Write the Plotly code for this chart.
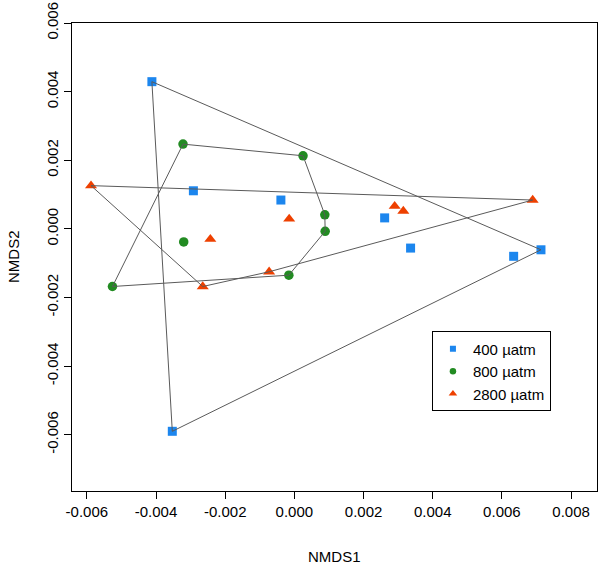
import plotly.graph_objects as go

# ---- data (NMDS scores, units of 1e-3) ----
groups = ["400 µatm", "800 µatm", "2800 µatm"]

x400 = [-4.12, -2.92, -0.39, 2.61, 3.36, 6.34, 7.13, -3.53]
y400 = [4.29, 1.11, 0.84, 0.32, -0.56, -0.80, -0.61, -5.90]

x800 = [-3.22, 0.25, 0.88, 0.89, -0.16, -5.26, -3.20]
y800 = [2.47, 2.13, 0.41, -0.07, -1.35, -1.68, -0.38]

x2800 = [-5.88, -0.15, -2.43, -0.73, -2.65, 2.90, 3.15, 6.89]
y2800 = [1.26, 0.29, -0.30, -1.25, -1.68, 0.66, 0.52, 0.84]

x_ticks = [-0.006, -0.004, -0.002, 0.000, 0.002, 0.004, 0.006, 0.008]
x_ticklabels = ["-0.006", "-0.004", "-0.002", "0.000", "0.002", "0.004", "0.006", "0.008"]
y_ticks = [-0.006, -0.004, -0.002, 0.000, 0.002, 0.004, 0.006]
y_ticklabels = ["-0.006", "-0.004", "-0.002", "0.000", "0.002", "0.004", "0.006"]

colors = ["#1C86EE", "#228B22", "#EE4000"]
symbols = ["square", "circle", "triangle-up"]
sizes = [9, 9.5, 10.5]
legend_sizes = [6, 6.5, 7.5]

SCALE = 1e-3
series = [(x400, y400), (x800, y800), (x2800, y2800)]


def convex_hull(xs, ys):
    pts = sorted(set(zip(xs, ys)))
    if len(pts) < 3:
        return pts

    def cross(o, a, b):
        return (a[0] - o[0]) * (b[1] - o[1]) - (a[1] - o[1]) * (b[0] - o[0])

    lower = []
    for p in pts:
        while len(lower) >= 2 and cross(lower[-2], lower[-1], p) <= 0:
            lower.pop()
        lower.append(p)
    upper = []
    for p in reversed(pts):
        while len(upper) >= 2 and cross(upper[-2], upper[-1], p) <= 0:
            upper.pop()
        upper.append(p)
    hull = lower[:-1] + upper[:-1]
    return hull + [hull[0]]


FONT = "Liberation Sans, Arial, Helvetica, sans-serif"
FS = 15
fig = go.Figure()

# points
for (xs, ys), c, s, sz in zip(series, colors, symbols, sizes):
    fig.add_trace(go.Scatter(
        x=[v * SCALE for v in xs], y=[v * SCALE for v in ys],
        mode="markers", showlegend=False,
        marker=dict(color=c, symbol=s, size=sz, line=dict(width=0)),
    ))

# hulls (drawn on top, as ordihull does)
for (xs, ys) in series:
    h = convex_hull(xs, ys)
    fig.add_trace(go.Scatter(
        x=[p[0] * SCALE for p in h], y=[p[1] * SCALE for p in h],
        mode="lines", showlegend=False, hoverinfo="skip",
        line=dict(color="#5a5a5a", width=1),
    ))

# legend entries
for g, c, s, sz in zip(groups, colors, symbols, legend_sizes):
    fig.add_trace(go.Scatter(
        x=[None], y=[None], mode="markers", name=g,
        marker=dict(color=c, symbol=s, size=sz, line=dict(width=0)),
    ))

axis_common = dict(
    showgrid=False, zeroline=False, showline=True, mirror=True,
    linecolor="black", linewidth=1, ticks="outside", ticklen=7,
    tickwidth=1, tickcolor="black", ticklabeloverflow="allow",
    tickfont=dict(family=FONT, size=FS, color="black"),
)

fig.update_layout(
    width=600, height=566,
    margin=dict(l=72, r=2, t=19, b=75),
    paper_bgcolor="white", plot_bgcolor="white",
    xaxis=dict(range=[-0.00643, 0.00875], tickvals=x_ticks, ticktext=x_ticklabels, **axis_common),
    yaxis=dict(range=[-0.00764, 0.00600001], tickvals=y_ticks, ticktext=y_ticklabels,
               tickangle=-90, **axis_common),
    legend=dict(
        x=0.6856, y=0.341, xanchor="left", yanchor="top",
        bordercolor="black", borderwidth=1, bgcolor="white",
        font=dict(family=FONT, size=FS, color="black"),
        itemwidth=30, tracegroupgap=0,
    ),
    annotations=[
        dict(text="NMDS1", xref="paper", yref="paper", x=0.5, y=0,
             xanchor="center", yanchor="middle", yshift=-65, showarrow=False,
             font=dict(family=FONT, size=FS, color="black")),
        dict(text="NMDS2", xref="paper", yref="paper", x=0, y=0.5,
             xanchor="center", yanchor="middle", xshift=-59, textangle=-90,
             showarrow=False, font=dict(family=FONT, size=FS, color="black")),
    ],
)

# remove the default 8px page margin so the figure fills the window exactly
fig.write_html("out.html", config={"displayModeBar": False},
               post_script="document.body.style.margin='0';")
